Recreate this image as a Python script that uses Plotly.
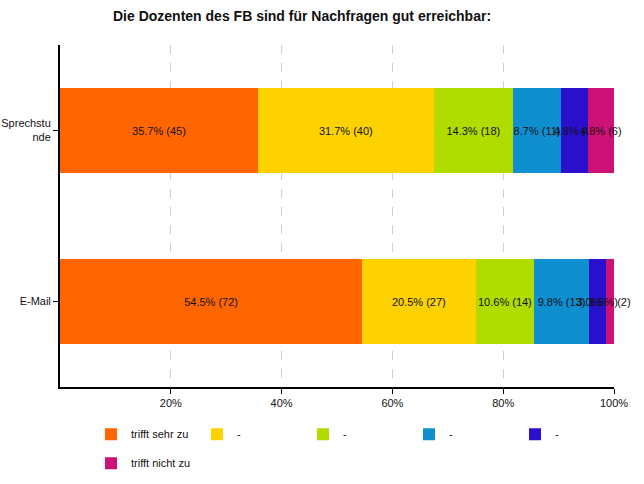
import plotly.graph_objects as go

categories = ["E-Mail", "Sprechstunde"]
cat_labels = ["E-Mail", "Sprechstu<br>nde"]
series_names = ["trifft sehr zu", "-", "-", "-", "-", "trifft nicht zu"]
counts_email = [72, 27, 14, 13, 4, 2]
counts_sprech = [45, 40, 18, 11, 6, 6]
colors = ["#FF6600", "#FDD200", "#B0DC00", "#0F8ED0", "#2A10CC", "#CC1177"]
legend_ids = ["legend", "legend", "legend", "legend", "legend", "legend2"]

tot_e = sum(counts_email)
tot_s = sum(counts_sprech)

fig = go.Figure()
for i, name in enumerate(series_names):
    ce, cs = counts_email[i], counts_sprech[i]
    pe, ps = ce / tot_e * 100, cs / tot_s * 100
    fig.add_trace(go.Bar(
        y=categories,
        x=[pe, ps],
        name=name,
        orientation="h",
        legend=legend_ids[i],
        marker=dict(color=colors[i], line=dict(width=0)),
        text=[f"{pe:.1f}% ({ce})", f"{ps:.1f}% ({cs})"],
        textposition="inside",
        insidetextanchor="middle",
        textangle=0,
        textfont=dict(color="#111111", size=11),
        cliponaxis=False,
        width=0.5,
        hoverinfo="skip",
    ))

legend_common = dict(orientation="h", x=91/644, xanchor="left", yanchor="top",
                     xref="container", yref="container",
                     entrywidth=61, entrywidthmode="pixels", traceorder="normal",
                     font=dict(size=11), itemclick=False, itemdoubleclick=False)

fig.update_layout(
    barmode="stack",
    width=644, height=484,
    margin=dict(l=60, r=30, t=45, b=97),
    paper_bgcolor="white", plot_bgcolor="white",
    font=dict(family="Liberation Sans, Arial, sans-serif", size=11, color="#111111"),
    title=dict(text="<b>Die Dozenten des FB sind für Nachfragen gut erreichbar:</b>",
               x=113/644, xanchor="left", y=1 - 16/484, yanchor="middle",
               font=dict(size=14, color="#111111")),
    uniformtext=dict(minsize=11, mode="show"),
    showlegend=True,
    legend=dict(y=0.133, **legend_common),
    legend2=dict(y=0.073, **legend_common),
    bargap=0.5,
)
fig.update_xaxes(range=[0, 100], tickvals=[20, 40, 60, 80, 100],
                 ticktext=["20%", "40%", "60%", "80%", "100%"],
                 showgrid=True, gridcolor="#D0D0D0", griddash="dash", gridwidth=1,
                 showline=True, linecolor="black", linewidth=2,
                 ticks="outside", ticklen=5, tickcolor="black", zeroline=False,
                 fixedrange=True, automargin=False)
fig.update_yaxes(tickvals=categories, ticktext=cat_labels,
                 showline=True, linecolor="black", linewidth=2,
                 ticks="outside", ticklen=5, tickcolor="black", showgrid=False,
                 fixedrange=True, automargin=False)

fig.write_html("out.html", config={"displayModeBar": False},
               post_script="document.body.style.margin='0';")
